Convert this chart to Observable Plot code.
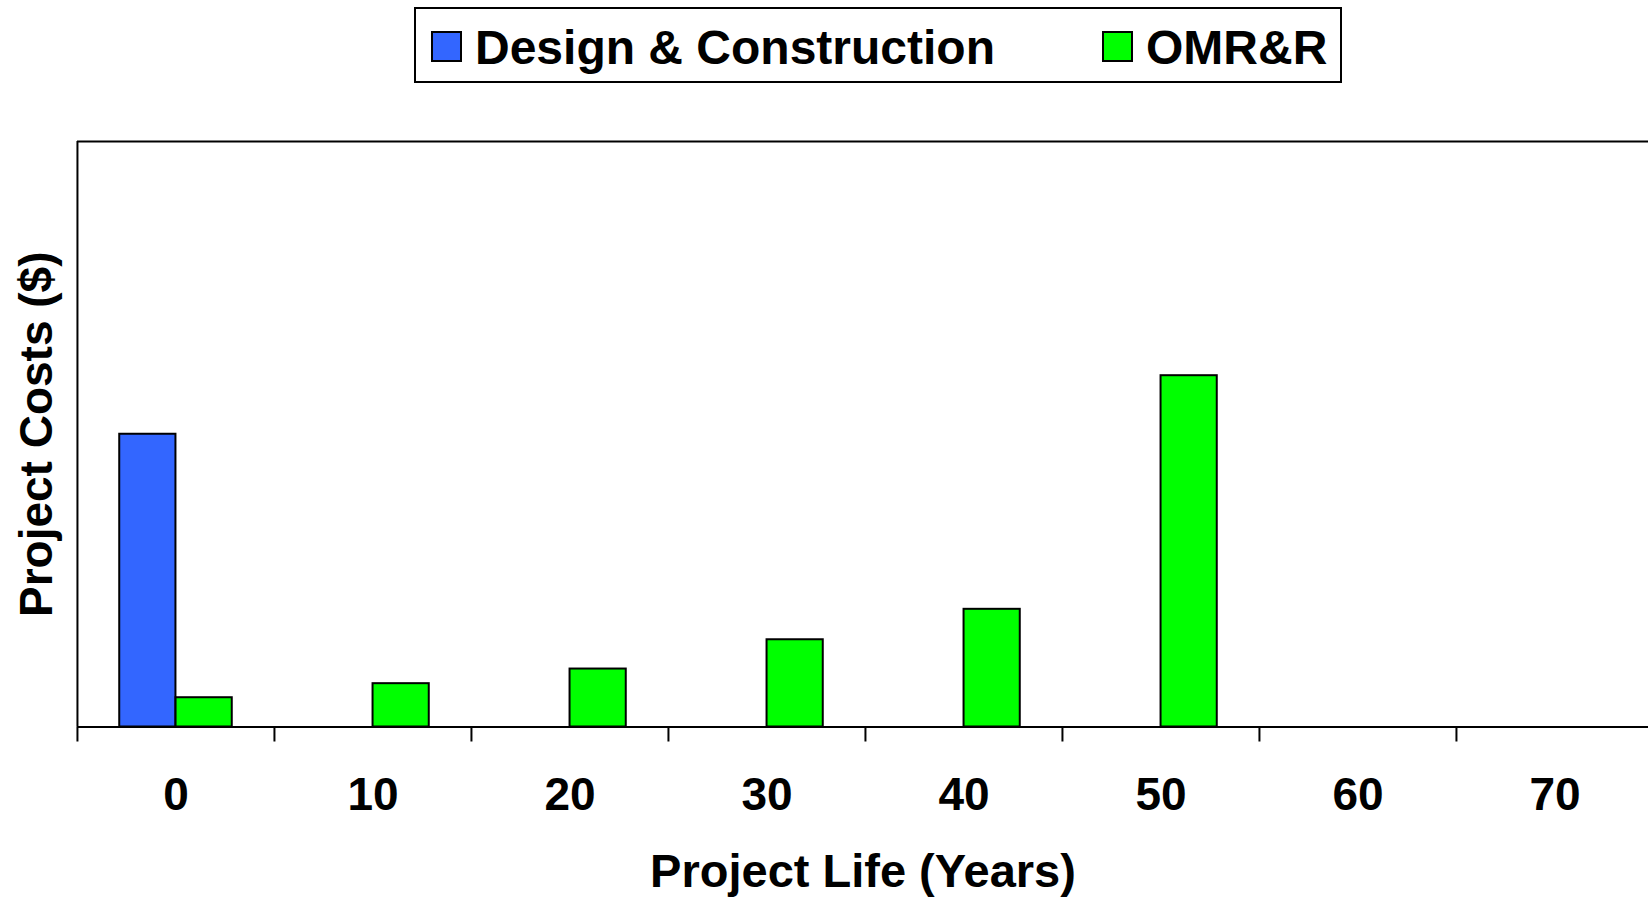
<!DOCTYPE html>
<html>
<head>
<meta charset="utf-8">
<script src="https://cdn.jsdelivr.net/npm/d3@7"></script>
<script src="https://cdn.jsdelivr.net/npm/@observablehq/plot@0.6"></script>
<style>
  html, body { margin: 0; padding: 0; background: #fff; overflow: hidden; }
  #wrap { position: relative; width: 1648px; height: 898px; font-family: "Liberation Sans", Arial, sans-serif; }
  #legend { position: absolute; left: 414px; top: 7px; width: 924px; height: 72px; border: 2px solid #000; background: #fff; z-index: 2; }
  .item { position: absolute; top: 2px; height: 72px; display: flex; align-items: center; font-weight: bold; font-size: 48px; color: #000; white-space: nowrap; }
  .sw { display: inline-block; width: 27px; height: 27px; border: 2px solid #000; margin-right: 13px; margin-top: -2px; }
  #chart { position: absolute; left: 0; top: 0; }
</style>
</head>
<body>
<div id="wrap">
  <div id="legend"></div>
  <div id="chart"></div>
</div>
<script>
// ---- data ----
const years = [0, 10, 20, 30, 40, 50, 60, 70];
const seriesNames = ["Design & Construction", "OMR&R"];
const seriesColors = ["#3366FF", "#00FF00"];
const designConstruction = [5, 0, 0, 0, 0, 0, 0, 0];
const omrr = [0.5, 0.74, 0.99, 1.49, 2.01, 6.0, 0, 0];
const xTitle = "Project Life (Years)";
const yTitle = "Project Costs ($)";

const dcRows = years.map((y, i) => ({year: y, value: designConstruction[i], series: seriesNames[0]})).filter(d => d.value > 0);
const omRows = years.map((y, i) => ({year: y, value: omrr[i], series: seriesNames[1]})).filter(d => d.value > 0);

// ---- layout ----
const W = 1648, H = 898;
const plotLeft = 77, plotTop = 141, plotBottom = 726.5;
const band = 197.1;
const plotRight = plotLeft + band * years.length;
const half = band / 2;
const barW = band / 3.5;           // Excel gap width 150%
const outer = barW * 0.75;

const font = "Liberation Sans, Arial, sans-serif";

const chart = Plot.plot({
  width: W,
  height: H,
  marginLeft: plotLeft,
  marginTop: plotTop,
  marginBottom: H - plotBottom,
  marginRight: 0,
  style: {fontFamily: font, background: "transparent", overflow: "visible"},
  x: {type: "band", domain: years, range: [plotLeft, plotRight], padding: 0},
  y: {domain: [0, 10], range: [plotBottom, plotTop]},
  color: {domain: seriesNames, range: seriesColors},
  marks: [
    Plot.barY(dcRows, {x: "year", y: "value", fill: "series", stroke: "#000", strokeWidth: 2,
      insetLeft: outer, insetRight: band - outer - barW}),
    Plot.barY(omRows, {x: "year", y: "value", fill: "series", stroke: "#000", strokeWidth: 2,
      insetLeft: half, insetRight: outer}),
    Plot.ruleY([0], {stroke: "#000", strokeWidth: 2}),
    Plot.ruleY([10], {stroke: "#000", strokeWidth: 2}),
    Plot.ruleX([years[0]], {dx: -half, stroke: "#000", strokeWidth: 2}),
    // tick marks at band boundaries
    Plot.axisX({tickSize: 15, strokeWidth: 2, dx: -half, tickFormat: () => "", label: null}),
    // tick labels at band centers
    Plot.axisX({tickSize: 0, tickPadding: 50, fontSize: 46, fontWeight: "bold", fill: "#000", label: null}),
    // x title
    Plot.axisX({ticks: [], tickSize: 0, fontSize: 47, fontWeight: "bold", fill: "#000",
      label: xTitle, labelAnchor: "center", labelOffset: 160, labelArrow: "none"}),
    Plot.axisY({ticks: [], tickSize: 0, fontSize: 46, fontWeight: "bold", fill: "#000",
      label: yTitle, labelAnchor: "center", labelOffset: 58, labelArrow: "none"})
  ]
});
document.getElementById("chart").appendChild(chart);

// ---- legend ----
const legend = document.getElementById("legend");
const itemLefts = [15, 686];
seriesNames.forEach((name, i) => {
  const it = document.createElement("div");
  it.className = "item";
  it.style.left = itemLefts[i] + "px";
  const sw = document.createElement("span");
  sw.className = "sw";
  sw.style.background = seriesColors[i];
  it.appendChild(sw);
  it.appendChild(document.createTextNode(name));
  legend.appendChild(it);
});
</script>
</body>
</html>
